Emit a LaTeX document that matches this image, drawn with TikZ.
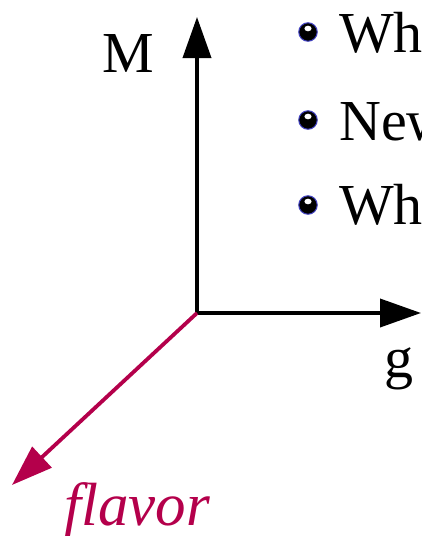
\documentclass[tikz,border=0pt]{standalone}
\usepackage{fontspec}
\setmainfont{Liberation Serif}
\usetikzlibrary{arrows.meta}
\definecolor{flavorred}{HTML}{B4004B}
\definecolor{rimblue}{HTML}{4040C0}
\tikzset{
  axis/.style={line width=3.8pt, -{Triangle[length=41pt,width=28pt]}},
  flavoraxis/.style={axis, draw=flavorred, color=flavorred},
  label/.style={font=\fontsize{58}{60}\selectfont, inner sep=0pt},
  bullettext/.style={label, anchor=base west},
  bulletball/.style={circle, minimum size=18.5pt, inner sep=0pt,
    fill=black, draw=rimblue, line width=1pt,
    path picture={\fill[white] ([yshift=3.5pt]path picture bounding box.center) ellipse (3.6pt and 2.8pt);}}
}
\begin{document}
\begin{tikzpicture}[x=1pt, y=-1pt]
  \useasboundingbox (0,0) rectangle (421,536);
  \clip (0,0) rectangle (421,536);

  % axes meeting at the origin
  \coordinate (O) at (197,313);
  \coordinate (Mtip) at (197,17);
  \coordinate (gtip) at (421,313);
  \coordinate (ftip) at (12,485);
  \draw[axis] ([yshift=1.9pt]O) -- (Mtip);
  \draw[axis] ([xshift=-1.9pt]O) -- (gtip);
  \draw[flavoraxis] (O) -- (ftip);

  % axis labels
  \node[label, anchor=base] (M) at (128,72) {M};
  \node[label, anchor=base] (g) at (399,377) {g};
  \node[label, anchor=base, text=flavorred, font=\fontsize{61}{64}\selectfont\itshape] (flavor) at (137,525) {flavor};

  % bullet list
  \node[bulletball] (b1) at (308,32) {};
  \node[bulletball] (b2) at (308,120) {};
  \node[bulletball] (b3) at (308,205) {};
  \node[bullettext] (t1) at (339,52) {Wh};
  \node[bullettext] (t2) at (339,140) {New};
  \node[bullettext] (t3) at (339,224) {Wh};
\end{tikzpicture}
\end{document}
